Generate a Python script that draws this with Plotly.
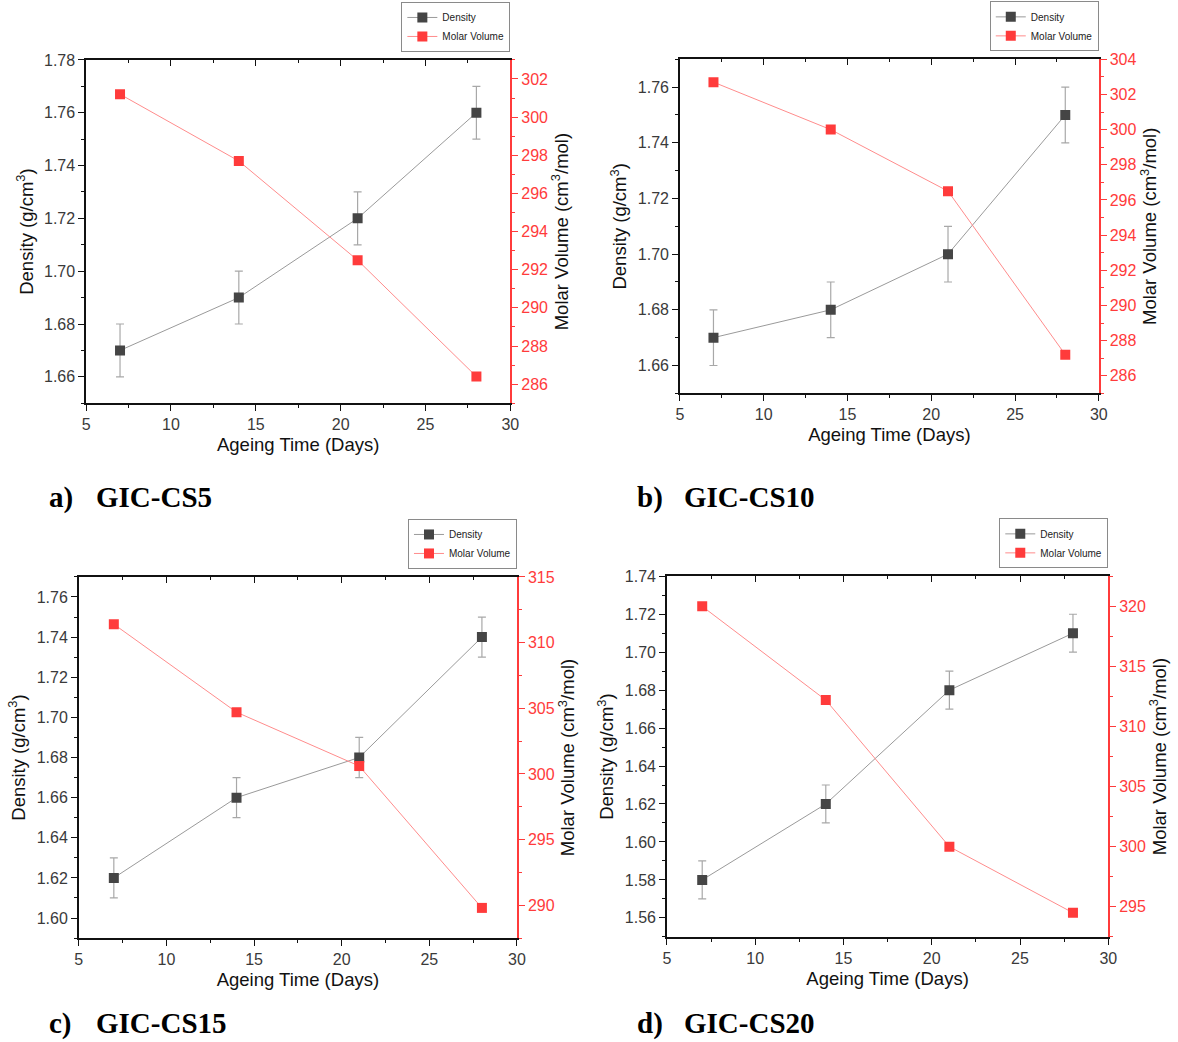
import plotly.graph_objects as go

W, H = 1178, 1042

days = [7, 14, 21, 28]

density_cs5 = [1.67, 1.69, 1.72, 1.76]
density_cs10 = [1.67, 1.68, 1.70, 1.75]
density_cs15 = [1.62, 1.66, 1.68, 1.74]
density_cs20 = [1.58, 1.62, 1.68, 1.71]
density_err = [0.01, 0.01, 0.01, 0.01]

molar_cs5 = [301.2, 297.7, 292.5, 286.4]
molar_cs10 = [302.7, 300.0, 296.5, 287.2]
molar_cs15 = [311.4, 304.7, 300.6, 289.8]
molar_cs20 = [320.0, 312.2, 300.0, 294.5]

panel_letters = ["a)", "b)", "c)", "d)"]
panel_names = ["GIC-CS5", "GIC-CS10", "GIC-CS15", "GIC-CS20"]

densities = [density_cs5, density_cs10, density_cs15, density_cs20]
molars = [molar_cs5, molar_cs10, molar_cs15, molar_cs20]

# layout specs (pixel boxes) : left, right, top, bottom
boxes = [(83, 512, 52.3, 398.3), (683.5, 1107, 51.7, 388.3),
         (75.6, 518.7, 573.3, 937.3), (670.3, 1116.6, 572.7, 936)]
left_ranges = [(1.65, 1.78), (1.65, 1.77), (1.59, 1.77), (1.55, 1.74)]
right_ranges = [(285, 303), (285, 304), (287.5, 315), (292.5, 322.5)]
right_dticks = [2, 2, 5, 5]
label_pos = [(48, 493), (643, 493), (48, 1023), (643, 1023)]

FONT = "Arial, Liberation Sans, sans-serif"
SERIF = "Liberation Serif, Times New Roman, serif"
RED = "#ff3b3b"

fig = go.Figure()
layout = dict(width=W, height=H, margin=dict(l=0, r=0, t=0, b=0),
              paper_bgcolor="white", plot_bgcolor="white",
              font=dict(family=FONT, color="#222"), annotations=[])


def ax(name, i):
    return name if i == 1 else f"{name}{i}"


for p in range(4):
    xb, xt = 2 * p + 1, 2 * p + 2
    yl, yr = 2 * p + 1, 2 * p + 2
    L, R, T, B = boxes[p]
    xd = [L / W, R / W]
    yd = [1 - B / H, 1 - T / H]
    leg = "legend" if p == 0 else f"legend{p + 1}"

    fig.add_trace(go.Scatter(
        x=days, y=densities[p], mode="lines+markers", name="Density",
        xaxis=ax("x", xb), yaxis=ax("y", yl), legend=leg,
        line=dict(color="#9a9a9a", width=1),
        marker=dict(symbol="square", size=10, color="#454545"),
        error_y=dict(type="data", array=density_err, color="#a8a8a8",
                     thickness=1.2, width=4)))
    fig.add_trace(go.Scatter(
        x=days, y=molars[p], mode="lines+markers", name="Molar Volume",
        xaxis=ax("x", xb), yaxis=ax("y", yr), legend=leg,
        line=dict(color="#ff8c8c", width=1),
        marker=dict(symbol="square", size=10, color=RED)))
    # anchor trace so the top (mirror) axis gets drawn
    fig.add_trace(go.Scatter(
        x=[None], y=[None], mode="markers", showlegend=False,
        hoverinfo="skip", xaxis=ax("x", xt), yaxis=ax("y", yl)))

    tickfont = dict(family=FONT, size=16, color="#3a3a3a")
    titlefont = dict(family=FONT, size=18.5, color="#111")

    layout[f"xaxis{xb if xb > 1 else ''}"] = dict(
        domain=xd, anchor=ax("y", yl), range=[5, 30], dtick=5, tick0=0,
        showline=True, mirror=True, linecolor="#111", linewidth=1.5,
        ticks="outside", ticklen=6, tickwidth=1.2, tickcolor="#111",
        showgrid=False, zeroline=False,
        minor=dict(ticks="outside", ticklen=3, dtick=2.5, tickcolor="#111"),
        tickfont=tickfont,
        title=dict(text="Ageing Time (Days)", font=titlefont, standoff=6))
    layout[f"xaxis{xt}"] = dict(
        domain=xd, anchor=ax("y", yl), overlaying=ax("x", xb), side="top",
        range=[5, 30], dtick=5, tick0=0, showline=True, linecolor="#111",
        linewidth=1.5, ticks="inside", ticklen=6, tickwidth=1.2, tickcolor="#111",
        minor=dict(ticks="inside", ticklen=3, dtick=2.5, tickcolor="#111"),
        showticklabels=False, showgrid=False, zeroline=False)
    layout[f"yaxis{yl if yl > 1 else ''}"] = dict(
        domain=yd, anchor=ax("x", xb), range=list(left_ranges[p]), dtick=0.02,
        tick0=0, tickformat=".2f", showline=True, linecolor="#111",
        linewidth=1.5, ticks="outside", ticklen=6, tickwidth=1.2, tickcolor="#111",
        minor=dict(ticks="outside", ticklen=3, dtick=0.01, tickcolor="#111"),
        showgrid=False, zeroline=False, tickfont=tickfont,
        title=dict(text="Density (g/cm<sup>3</sup>)", font=titlefont, standoff=6))
    layout[f"yaxis{yr}"] = dict(
        domain=yd, anchor=ax("x", xb), overlaying=ax("y", yl), side="right",
        range=list(right_ranges[p]), dtick=right_dticks[p], tick0=0,
        showline=True, linecolor=RED, linewidth=1.5, ticks="outside",
        ticklen=6, tickwidth=1.2, tickcolor=RED,
        minor=dict(ticks="outside", ticklen=3, dtick=right_dticks[p] / 2,
                   tickcolor=RED),
        showgrid=False, zeroline=False,
        tickfont=dict(family=FONT, size=16, color=RED),
        title=dict(text="Molar Volume (cm<sup>3</sup>/mol)", font=titlefont,
                   standoff=6))

    layout[leg] = dict(
        x=R / W, y=1 - (T - 8) / H, xanchor="right", yanchor="bottom",
        bgcolor="white", bordercolor="#8a8a8a", borderwidth=1,
        font=dict(family=FONT, size=10, color="#222"),
        itemwidth=30, tracegroupgap=0)

    lx, ly = label_pos[p]
    layout["annotations"].append(dict(
        x=(lx - 4) / W, y=1 - ly / H, xref="paper", yref="paper",
        xanchor="left", yanchor="middle", showarrow=False, borderpad=0,
        text=f"<b>{panel_letters[p]}</b>",
        font=dict(family=SERIF, size=29, color="black")))
    layout["annotations"].append(dict(
        x=(lx + 44) / W, y=1 - ly / H, xref="paper", yref="paper",
        xanchor="left", yanchor="middle", showarrow=False, borderpad=0,
        text=f"<b>{panel_names[p]}</b>",
        font=dict(family=SERIF, size=29, color="black")))

fig.update_layout(**layout)
fig.write_html("out.html")
